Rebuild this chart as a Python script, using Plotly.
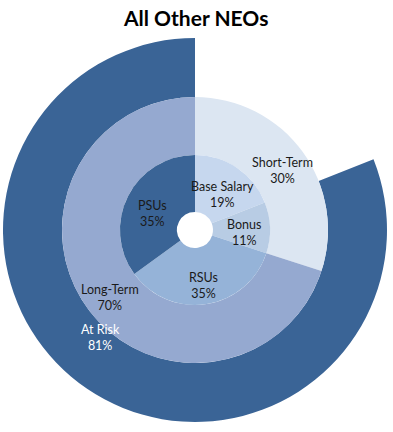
import plotly.graph_objects as go

# ---- data ----
inner_labels = ["Base Salary", "Bonus", "RSUs", "PSUs"]
inner_values = [19, 11, 35, 35]
middle_labels = ["Short-Term", "Long-Term"]
middle_values = [30, 70]
outer_labels = ["", "At Risk"]
outer_values = [19, 81]
title_text = "All Other NEOs"

# ---- style ----
W, H = 393, 432
CX, CY = 195, 230
R_OUT, R_MID, R_IN, R_HOLE = 192, 133, 75, 18

inner_colors = ["#C6D7EE", "#B8CCE4", "#95B3D8", "#3A6496"]
middle_colors = ["#DCE6F2", "#95A9D0"]
outer_colors = ["rgba(0,0,0,0)", "#3A6496"]

FONT = "Lato"


def domain(r):
    return dict(x=[(CX - r) / W, (CX + r) / W], y=[1 - (CY + r) / H, 1 - (CY - r) / H])


def pie(labels, values, colors, r, hole):
    return go.Pie(
        labels=labels, values=values, sort=False, direction="clockwise", rotation=0,
        domain=domain(r), hole=hole, textinfo="none",
        marker=dict(colors=colors, line=dict(width=0)),
        hoverinfo="label+percent", showlegend=False,
    )


fig = go.Figure()
fig.add_trace(pie(outer_labels, outer_values, outer_colors, R_OUT, R_MID / R_OUT))
fig.add_trace(pie(middle_labels, middle_values, middle_colors, R_MID, R_IN / R_MID))
fig.add_trace(pie(inner_labels, inner_values, inner_colors, R_IN, R_HOLE / R_IN))

# label positions (pixels)
label_pos = {
    "Base Salary": (222, 195, "#1a1a1a"),
    "Bonus": (244, 232, "#1a1a1a"),
    "RSUs": (203, 285, "#1a1a1a"),
    "PSUs": (152, 213, "#1a1a1a"),
    "Short-Term": (282, 171, "#1a1a1a"),
    "Long-Term": (110, 297, "#1a1a1a"),
    "At Risk": (100, 337, "white"),
}
all_items = list(zip(inner_labels, inner_values)) + list(zip(middle_labels, middle_values)) + \
    [(l, v) for l, v in zip(outer_labels, outer_values) if l]
for lab, val in all_items:
    x, y, c = label_pos[lab]
    fig.add_annotation(
        x=x / W, y=1 - y / H, xref="paper", yref="paper", showarrow=False,
        text=f"{lab}<br>{val}%", font=dict(family=FONT, size=12.5, color=c),
        xanchor="center", yanchor="middle", align="center",
    )

fig.add_annotation(
    x=195 / W, y=1 - 18 / H, xref="paper", yref="paper", showarrow=False,
    text=f"<b>{title_text}</b>", font=dict(family=FONT, size=21, color="black"),
    xanchor="center", yanchor="middle",
)

fig.update_layout(
    width=W, height=H, margin=dict(l=0, r=0, t=0, b=0),
    paper_bgcolor="white", plot_bgcolor="white",
    font=dict(family=FONT),
)
fig.write_html("out.html", config={"displayModeBar": False},
               post_script="document.body.style.margin='0';")
